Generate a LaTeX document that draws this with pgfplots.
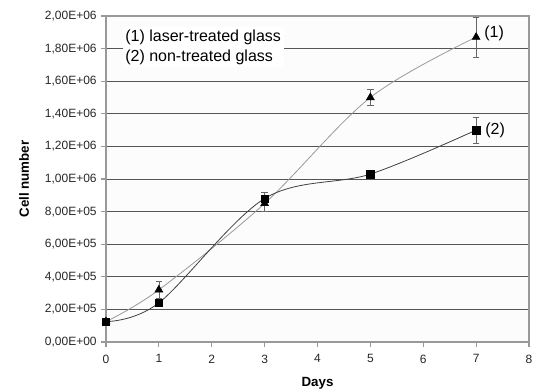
\documentclass[border=0pt]{standalone}
\usepackage{pgfplots}
\pgfplotsset{compat=1.18}
\usetikzlibrary{calc}
\usepackage{fontspec}
\setmainfont{Liberation Sans}
\definecolor{bg}{HTML}{F7F7F7}
\definecolor{gridc}{HTML}{555555}
\definecolor{axc}{HTML}{999999}
\begin{document}
\begin{tikzpicture}[x=0.75pt,y=0.75pt]
\pgfplotstableread{
x y e
0 125000 10000
1 320000 50000
3 850000 50000
5 1500000 50000
7 1870000 125000
}\laser
\pgfplotstableread{
x y e
0 125000 10000
1 240000 20000
3 880000 40000
5 1030000 15000
7 1300000 80000
}\nontr
\begin{axis}[
  scale only axis,
  width=317.25pt, height=244.5pt,
  xmin=0, xmax=8, ymin=0, ymax=2000000,
  xtick={0,...,8},
  ytick={0,200000,400000,600000,800000,1000000,1200000,1400000,1600000,1800000,2000000},
  yticklabels={{0,00E+00},{2,00E+05},{4,00E+05},{6,00E+05},{8,00E+05},{1,00E+06},{1,20E+06},{1,40E+06},{1,60E+06},{1,80E+06},{2,00E+06}},
  scaled y ticks=false,
  /pgf/number format/assume math mode=true,
  tick label style={font=\fontsize{9}{10}\selectfont, text=black!85},
  xticklabel style={yshift=-2.5pt},
  ymajorgrids,
  grid style={gridc, line width=0.6pt},
  axis line style={axc, line width=0.8pt},
  tick style={axc, line width=0.8pt},
  tick align=outside,
  major tick length=3.5pt,
  xtick pos=bottom, ytick pos=left,
  xlabel={\textbf{Days}},
  ylabel={\textbf{Cell number}},
  label style={font=\fontsize{10}{11}\selectfont},
  xlabel style={yshift=-4pt},
  ylabel style={yshift=5pt},
  axis background/.style={fill=white!60!bg},
  clip=false,
]
\addplot[gray!80, line width=0.6pt, smooth, tension=0.55] table[x=x,y=y] {\laser};
\addplot[black!75, line width=0.6pt, smooth, tension=0.55] table[x=x,y=y] {\nontr};
\addplot[only marks, mark=triangle*, mark size=3.4pt, black,
  error bars/.cd, y dir=both, y explicit, error bar style={gray!80!black, line width=0.5pt}, error mark options={rotate=90, mark size=2.4pt, gray!80!black}]
  table[x=x,y=y,y error=e] {\laser};
\addplot[only marks, mark=square*, mark size=2.8pt, black,
  error bars/.cd, y dir=both, y explicit, error bar style={gray!80!black, line width=0.5pt}, error mark options={rotate=90, mark size=2.4pt, gray!80!black}]
  table[x=x,y=y,y error=e] {\nontr};
\node[anchor=west, inner sep=0pt, font=\fontsize{12}{14}\selectfont] at (axis cs:7.15,1895000) {(1)};
\node[anchor=west, inner sep=0pt, font=\fontsize{12}{14}\selectfont] at (axis cs:7.17,1300000) {(2)};
\node[anchor=north west, fill=white, inner sep=2pt, align=left, font=\fontsize{12}{15}\selectfont] at (axis cs:0.31,1935000) {(1) laser-treated glass\\(2) non-treated glass};
\end{axis}
\pgfresetboundingbox
\path[fill=none] ($(current axis.south west)+(-79.5pt,-36pt)$) rectangle ($(current axis.north east)+(5.25pt,12pt)$);
\end{tikzpicture}
\end{document}
